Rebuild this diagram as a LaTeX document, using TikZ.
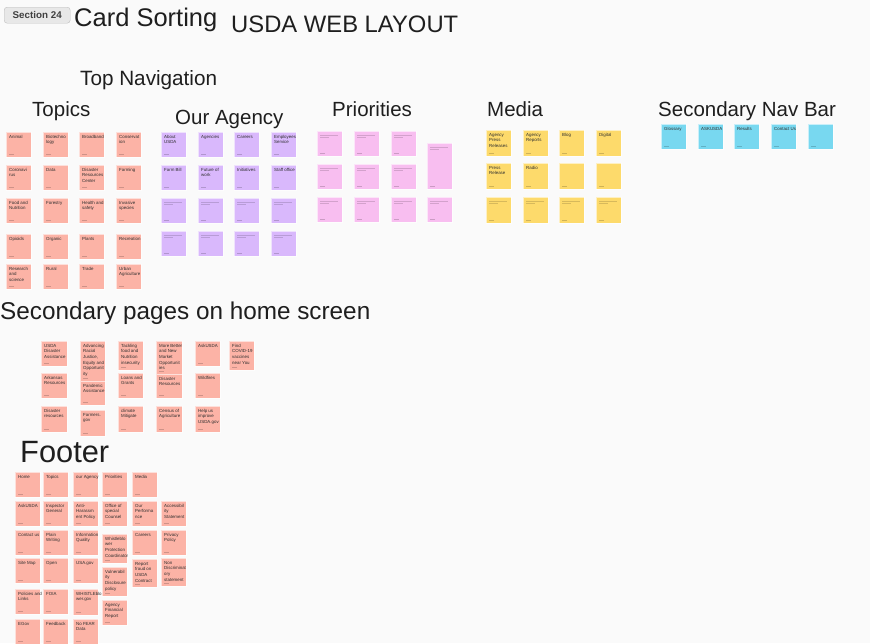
\documentclass[tikz,border=0pt]{standalone}
\usepackage{fontspec}
\setmainfont{Liberation Sans}
\definecolor{bgcol}{HTML}{FAFAFA}
\definecolor{salmon}{HTML}{FCB3A6}
\definecolor{lilac}{HTML}{D9B8FC}
\definecolor{pinkn}{HTML}{F8BEF0}
\definecolor{yelln}{HTML}{FDDA6B}
\definecolor{bluen}{HTML}{78D8F0}
\definecolor{inkc}{HTML}{1E1E1E}
\definecolor{notetxt}{HTML}{2E2E2E}
\tikzset{
  notebox/.style={draw=white, draw opacity=0.6, line width=0.6pt, anchor=north west, inner sep=0pt},
  notetext/.style={anchor=north west, inner sep=0pt, align=left, text=notetxt, font=\fontsize{4.4}{5.6}\selectfont},
  tagmark/.style={fill=black, fill opacity=0.18},
  phline/.style={black, opacity=0.15, line width=0.5pt},
  heading/.style={anchor=base west, inner sep=0pt, text=inkc, font=\fontsize{20.5}{24}\selectfont},
  badge/.style={draw=black!25, fill=black!9, rounded corners=3pt, inner sep=0pt, minimum width=66pt, minimum height=16pt, anchor=north west, font=\fontsize{9.8}{11}\bfseries\selectfont, text=black!75}
}
\newcommand\mynote[7]{%
  \node[notebox, fill=#6, minimum width=#4pt, minimum height=#5pt] (#1) at (#2,#3) {};
  \node[notetext] (#1t) at ([xshift=3pt,yshift=-3pt]#1.north west) {#7};
  \fill[tagmark] ([xshift=3pt,yshift=3pt]#1.south west) rectangle ++(5pt,0.8pt);
}
\newcommand\phnote[6]{%
  \node[notebox, fill=#6, minimum width=#4pt, minimum height=#5pt] (#1) at (#2,#3) {};
  \draw[phline] ([xshift=3pt,yshift=-4pt]#1.north west) -- ++(18pt,0);
  \draw[phline] ([xshift=3pt,yshift=-6.5pt]#1.north west) -- ++(9pt,0);
  \fill[tagmark] ([xshift=3pt,yshift=3pt]#1.south west) rectangle ++(5pt,0.8pt);
}
\begin{document}
\begin{tikzpicture}[x=1pt,y=-1pt]
\fill[bgcol] (0,0) rectangle (870,643);
\useasboundingbox (0,0) rectangle (870,643);

% header
\node[badge] (badge) at (4,7) {Section 24};
\node[heading, font=\fontsize{25.5}{30}\selectfont] (title) at (74,26) {Card Sorting};
\node[heading, font=\fontsize{23.8}{28}\selectfont] (usda) at (231,32) {USDA WEB LAYOUT};
\node[heading, font=\fontsize{20.7}{24}\selectfont] (topnav) at (80,85) {Top Navigation};
\node[heading] (hTopics) at (32,116) {Topics};
\node[heading] (hAgency) at (175,124) {Our Agency};
\node[heading] (hPrio) at (332,116) {Priorities};
\node[heading] (hMedia) at (487,116) {Media};
\node[heading] (hSec) at (658,116) {Secondary Nav Bar};
\node[heading, font=\fontsize{24.3}{28}\selectfont] (hSecPages) at (0,319) {Secondary pages on home screen};
\node[heading, font=\fontsize{30.8}{36}\selectfont] (hFooter) at (20,462) {Footer};

% Topics
\mynote{t11}{6}{132}{25}{25}{salmon}{Animal}
\mynote{t12}{43}{132}{25}{25}{salmon}{Biotechno\\logy}
\mynote{t13}{79}{132}{25}{25}{salmon}{Broadband}
\mynote{t14}{116}{132}{25}{25}{salmon}{Conservat\\ion}
\mynote{t21}{6}{165}{25}{25}{salmon}{Coronavi\\rus}
\mynote{t22}{43}{165}{25}{25}{salmon}{Data}
\mynote{t23}{79}{165}{25}{25}{salmon}{Disaster\\Resources\\Center}
\mynote{t24}{116}{165}{25}{25}{salmon}{Farming}
\mynote{t31}{6}{198}{25}{25}{salmon}{Food and\\Nutrition}
\mynote{t32}{43}{198}{25}{25}{salmon}{Forestry}
\mynote{t33}{79}{198}{25}{25}{salmon}{Health and\\safety}
\mynote{t34}{116}{198}{25}{25}{salmon}{Invasive\\species}
\mynote{t41}{6}{234}{25}{25}{salmon}{Opioids}
\mynote{t42}{43}{234}{25}{25}{salmon}{Organic}
\mynote{t43}{79}{234}{25}{25}{salmon}{Plants}
\mynote{t44}{116}{234}{25}{25}{salmon}{Recreation}
\mynote{t51}{6}{264}{25}{25}{salmon}{Research\\and\\science}
\mynote{t52}{43}{264}{25}{25}{salmon}{Rural}
\mynote{t53}{79}{264}{25}{25}{salmon}{Trade}
\mynote{t54}{116}{264}{25}{25}{salmon}{Urban\\Agriculture}

% Our Agency
\mynote{a11}{161}{132}{25}{25}{lilac}{About\\USDA}
\mynote{a12}{198}{132}{25}{25}{lilac}{Agencies}
\mynote{a13}{234}{132}{25}{25}{lilac}{Careers}
\mynote{a14}{271}{132}{25}{25}{lilac}{Employees\\Service}
\mynote{a21}{161}{165}{25}{25}{lilac}{Farm Bill}
\mynote{a22}{198}{165}{25}{25}{lilac}{Future of\\work}
\mynote{a23}{234}{165}{25}{25}{lilac}{Initiatives}
\mynote{a24}{271}{165}{25}{25}{lilac}{Staff office}
\phnote{a31}{161}{198}{25}{25}{lilac}
\phnote{a32}{198}{198}{25}{25}{lilac}
\phnote{a33}{234}{198}{25}{25}{lilac}
\phnote{a34}{271}{198}{25}{25}{lilac}
\phnote{a41}{161}{231}{25}{25}{lilac}
\phnote{a42}{198}{231}{25}{25}{lilac}
\phnote{a43}{234}{231}{25}{25}{lilac}
\phnote{a44}{271}{231}{25}{25}{lilac}

% Priorities
\phnote{p11}{317}{131}{25}{25}{pinkn}
\phnote{p12}{354}{131}{25}{25}{pinkn}
\phnote{p13}{391}{131}{25}{25}{pinkn}
\phnote{p14}{427}{143}{25}{46}{pinkn}
\phnote{p21}{317}{164}{25}{25}{pinkn}
\phnote{p22}{354}{164}{25}{25}{pinkn}
\phnote{p23}{391}{164}{25}{25}{pinkn}
\phnote{p31}{317}{197}{25}{25}{pinkn}
\phnote{p32}{354}{197}{25}{25}{pinkn}
\phnote{p33}{391}{197}{25}{25}{pinkn}
\phnote{p34}{427}{197}{25}{25}{pinkn}

% Media
\mynote{m11}{486}{130}{25}{26}{yelln}{Agency\\Press\\Releases}
\mynote{m12}{523}{130}{25}{26}{yelln}{Agency\\Reports}
\mynote{m13}{559}{130}{25}{26}{yelln}{Blog}
\mynote{m14}{596}{130}{25}{26}{yelln}{Digital}
\mynote{m21}{486}{163}{25}{26}{yelln}{Press\\Release}
\mynote{m22}{523}{163}{25}{26}{yelln}{Radio}
\mynote{m23}{559}{163}{25}{26}{yelln}{}
\mynote{m24}{596}{163}{25}{26}{yelln}{}
\phnote{m31}{486}{197}{25}{26}{yelln}
\phnote{m32}{523}{197}{25}{26}{yelln}
\phnote{m33}{559}{197}{25}{26}{yelln}
\phnote{m34}{596}{197}{25}{26}{yelln}

% Secondary nav bar
\mynote{n1}{661}{124}{25}{25}{bluen}{Glossary}
\mynote{n2}{698}{124}{25}{25}{bluen}{ASKUSDA}
\mynote{n3}{734}{124}{25}{25}{bluen}{Results}
\mynote{n4}{771}{124}{25}{25}{bluen}{Contact Us}
\mynote{n5}{808}{124}{25}{25}{bluen}{}

% Secondary pages on home screen
\mynote{h11}{41}{341}{26}{25}{salmon}{USDA\\Disaster\\Assistance}
\mynote{h21}{41}{373}{26}{25}{salmon}{Arkansas\\Resources}
\mynote{h31}{41}{406}{26}{26}{salmon}{Disaster\\resources}
\mynote{h12}{80}{341}{25}{40}{salmon}{Advancing\\Racial\\Justice,\\Equity and\\Opportunit\\ity}
\mynote{h22}{80}{381}{25}{24}{salmon}{Pandemic\\Assistance}
\mynote{h32}{80}{410}{25}{26}{salmon}{Farmers.\\gov}
\mynote{h13}{118}{341}{25}{29}{salmon}{Tackling\\food and\\Nutrition\\insecurity}
\mynote{h23}{118}{373}{25}{25}{salmon}{Loans and\\Grants}
\mynote{h33}{118}{406}{25}{26}{salmon}{climate\\Mitigate}
\mynote{h14}{156}{341}{26}{33}{salmon}{More Better\\and New\\Market\\Opportunit\\ies}
\mynote{h24}{156}{374}{26}{24}{salmon}{Disaster\\Resources}
\mynote{h34}{156}{406}{26}{26}{salmon}{Census of\\Agriculture}
\mynote{h15}{195}{341}{25}{25}{salmon}{AskUSDA}
\mynote{h25}{195}{373}{25}{25}{salmon}{Wildfires}
\mynote{h35}{195}{406}{25}{26}{salmon}{Help us\\improve\\USDA.gov}
\mynote{h16}{229}{341}{25}{29}{salmon}{Find\\COVID-19\\vaccines\\near You}

% Footer
\mynote{f11}{15}{472}{25}{25}{salmon}{Home}
\mynote{f21}{15}{501}{25}{25}{salmon}{AskUSDA}
\mynote{f31}{15}{530}{25}{25}{salmon}{Contact us}
\mynote{f41}{15}{558}{25}{25}{salmon}{Site Map}
\mynote{f51}{15}{589}{25}{25}{salmon}{Policies and\\Links}
\mynote{f61}{15}{619}{25}{25}{salmon}{EGov}
\mynote{f12}{43}{472}{25}{25}{salmon}{Topics}
\mynote{f22}{43}{501}{25}{25}{salmon}{Inspector\\General}
\mynote{f32}{43}{530}{25}{25}{salmon}{Plain\\Writing}
\mynote{f42}{43}{558}{25}{25}{salmon}{Open}
\mynote{f52}{43}{589}{25}{25}{salmon}{FOIA}
\mynote{f62}{43}{619}{25}{25}{salmon}{Feedback}
\mynote{f13}{73}{472}{25}{25}{salmon}{our Agency}
\mynote{f23}{73}{501}{25}{25}{salmon}{Anti-\\Harassm\\ent Policy}
\mynote{f33}{73}{530}{25}{25}{salmon}{Information\\Quality}
\mynote{f43}{73}{558}{25}{25}{salmon}{USA.gov}
\mynote{f53}{73}{589}{25}{26}{salmon}{WHISTLEblo\\wer.gov}
\mynote{f63}{73}{619}{25}{25}{salmon}{No FEAR\\Data}
\mynote{f14}{102}{472}{25}{25}{salmon}{Priorities}
\mynote{f24}{102}{501}{25}{25}{salmon}{Office of\\special\\Counsel}
\mynote{f34}{102}{534}{25}{29}{salmon}{Whistleblo\\wer\\Protection\\Coordinator}
\mynote{f44}{102}{567}{25}{29}{salmon}{Vulnerabil\\ity\\Disclosure\\policy}
\mynote{f54}{102}{600}{25}{25}{salmon}{Agency\\Financial\\Report}
\mynote{f15}{132}{472}{25}{25}{salmon}{Media}
\mynote{f25}{132}{501}{25}{25}{salmon}{Our\\Performa\\nce}
\mynote{f35}{132}{530}{25}{25}{salmon}{Careers}
\mynote{f45}{132}{559}{25}{28}{salmon}{Report\\fraud on\\USDA\\Contract}
\mynote{f26}{161}{501}{25}{25}{salmon}{Accessibil\\ity\\Statement}
\mynote{f36}{161}{530}{25}{25}{salmon}{Privacy\\Policy}
\mynote{f46}{161}{558}{25}{28}{salmon}{Non\\Discriminat\\ory\\statement}
\end{tikzpicture}
\end{document}
